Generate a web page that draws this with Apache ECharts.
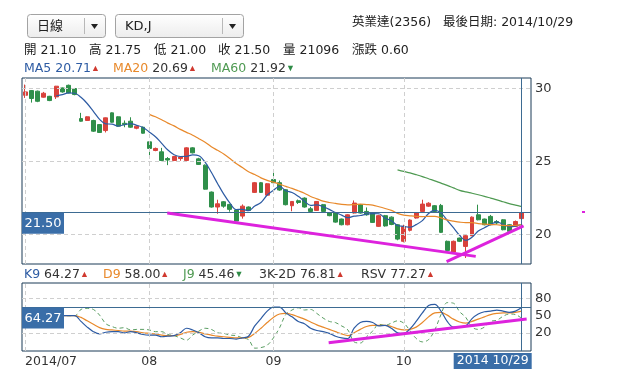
<!DOCTYPE html>
<html><head><meta charset="utf-8">
<script src="https://cdn.jsdelivr.net/npm/echarts@6/dist/echarts.min.js"></script>
<style>html,body{margin:0;padding:0;background:#fff}#c{width:622px;height:385px}</style>
</head><body><div id="c"></div>
<script>
// ---------- data ----------
const dates = [
'2014/07/01','2014/07/02','2014/07/03','2014/07/04','2014/07/07','2014/07/08','2014/07/09','2014/07/10','2014/07/11','2014/07/14',
'2014/07/15','2014/07/16','2014/07/17','2014/07/18','2014/07/21','2014/07/22','2014/07/24','2014/07/25','2014/07/28','2014/07/29',
'2014/08/01','2014/08/04','2014/08/05','2014/08/06','2014/08/07','2014/08/08','2014/08/11','2014/08/12','2014/08/13','2014/08/14',
'2014/08/15','2014/08/18','2014/08/19','2014/08/20','2014/08/21','2014/08/22','2014/08/25','2014/08/26','2014/08/27','2014/08/28',
'2014/09/01','2014/09/02','2014/09/03','2014/09/04','2014/09/05','2014/09/09','2014/09/10','2014/09/11','2014/09/12','2014/09/15',
'2014/09/16','2014/09/17','2014/09/18','2014/09/19','2014/09/22','2014/09/23','2014/09/24','2014/09/25','2014/09/26','2014/09/29',
'2014/09/30','2014/10/01','2014/10/02','2014/10/03','2014/10/06','2014/10/07','2014/10/08','2014/10/09','2014/10/13','2014/10/14',
'2014/10/15','2014/10/16','2014/10/17','2014/10/20','2014/10/21','2014/10/22','2014/10/23','2014/10/24','2014/10/27','2014/10/28',
'2014/10/29'];
const openP = [29.52,29.84,29.80,29.39,29.45,29.41,30.02,30.20,29.98,27.93,
27.80,27.80,27.52,27.11,28.32,28.05,27.61,27.75,27.27,27.34,
26.34,25.75,25.66,25.20,25.07,25.20,25.07,25.93,25.18,24.75,
22.91,21.89,22.25,22.07,21.68,21.27,21.89,22.89,23.55,22.70,
23.77,23.55,23.07,21.98,22.32,22.50,21.77,21.66,22.05,21.48,
21.48,21.07,20.68,21.48,22.05,21.59,21.48,20.57,21.30,21.20,
20.68,19.55,20.30,21.14,21.59,21.95,21.98,22.00,19.55,18.82,
19.77,19.20,19.93,21.36,21.07,21.25,20.90,21.02,20.68,20.57,
21.10];
const closeP = [29.75,29.30,29.11,29.66,29.16,30.14,29.75,29.68,29.57,27.75,
28.05,27.07,26.98,27.98,27.68,27.41,27.52,27.34,27.41,26.93,
25.89,25.89,25.07,25.10,25.34,25.30,25.93,25.59,24.80,23.11,
21.89,22.11,21.95,21.73,20.93,21.95,21.66,23.55,22.89,23.48,
23.55,23.05,22.05,22.27,22.20,21.89,21.59,22.27,21.59,21.30,
20.86,20.68,21.36,22.16,21.48,21.36,20.84,21.30,20.60,20.70,
19.70,20.55,21.00,21.48,22.09,22.15,21.59,20.16,18.93,19.55,
19.55,19.93,21.20,21.02,20.68,20.68,20.80,20.34,20.23,20.90,
21.50];
const lowP = [29.34,29.02,29.05,29.36,29.12,29.27,29.70,29.65,29.52,27.72,
27.78,27.02,26.95,26.98,27.65,27.38,27.34,27.30,27.20,26.90,
25.30,25.70,25.02,24.75,25.02,25.05,25.02,25.55,24.76,23.08,
21.85,21.43,21.84,21.57,20.90,21.10,21.62,22.85,22.85,22.65,
23.50,23.00,22.00,21.60,22.10,21.85,21.50,21.62,21.55,21.26,
20.82,20.64,20.64,21.44,21.44,21.30,20.80,20.53,20.55,20.65,
19.62,19.48,20.22,21.10,21.55,21.90,21.55,20.12,18.90,18.75,
19.50,18.41,19.90,20.98,20.64,20.64,20.70,20.30,20.19,20.53,
21.00];
const highP = [30.25,29.88,29.84,29.75,29.48,30.16,30.05,30.25,30.02,28.32,
28.08,27.85,27.55,28.00,28.35,28.08,27.80,28.02,27.45,27.38,
26.40,25.95,25.93,25.30,25.38,25.36,25.97,25.97,25.25,24.80,
22.95,22.39,22.30,22.10,21.72,22.07,21.93,23.60,23.60,23.52,
24.34,23.70,23.10,22.30,22.40,22.55,21.90,22.30,22.10,21.52,
21.52,21.10,21.40,22.34,22.10,21.86,21.52,21.36,21.35,21.25,
20.72,20.68,21.05,21.52,22.39,22.22,22.02,22.10,19.60,19.60,
19.80,20.00,21.25,22.05,21.10,21.35,21.00,21.06,20.72,20.97,
21.75];
// moving averages as read (MA5 from index 5, MA20 from index 20, MA60 from index 60)
const ma5 = [29.47,29.56,29.68,29.66,29.38,28.96,28.42,27.88,27.57,27.55,
27.42,27.51,27.59,27.47,27.32,27.02,26.69,26.24,25.78,25.46,
25.34,25.35,25.45,25.39,24.95,24.26,23.50,22.77,22.16,21.72,
21.73,21.64,21.96,22.20,22.71,23.03,23.30,23.00,22.88,22.62,
22.29,22.00,22.04,21.91,21.73,21.52,21.34,21.16,21.27,21.31,
21.41,21.44,21.43,21.12,20.96,20.63,20.57,20.51,20.69,20.96,
21.45,21.66,21.49,20.98,20.48,19.96,19.62,19.83,20.25,20.48,
20.70,20.88,20.70,20.55,20.59,20.71];
const ma20 = [28.22,28.05,27.85,27.62,27.43,27.19,26.99,26.79,26.55,26.32,
26.01,25.76,25.51,25.20,24.86,24.59,24.30,24.11,23.88,23.71,
23.59,23.45,23.30,23.16,23.00,22.83,22.61,22.45,22.29,22.20,
22.14,22.07,22.04,22.06,22.09,22.06,22.02,21.91,21.79,21.66,
21.46,21.34,21.29,21.25,21.24,21.25,21.25,21.15,21.01,20.93,
20.86,20.82,20.82,20.76,20.72,20.69,20.68,20.64,20.62,20.63,
20.69];
const ma60 = [24.43,24.32,24.22,24.10,23.97,23.82,23.68,23.52,23.37,23.20,
23.03,22.92,22.83,22.73,22.62,22.50,22.38,22.25,22.12,22.02,21.92];
const kLine = [50,50,50,50,50,50,50,50,50,40,
30,22,18,21,22,22,20,22,20,17,
16,16,13,14,15,20,28,25,20,13,
11,11,10,10,9,11,14,32,45,58,
65,65,55,48,40,36,28,24,22,19,
14,11,10,28,38,40,38,32,33,28,
20,19,27,40,55,68,70,58,40,30,
30,32,45,53,57,58,60,58,56,58,
64.27];
const dLine = [50,50,50,50,50,50,50,50,50,47,
41,35,29,26,25,24,23,23,22,20,
19,18,16,15,15,17,21,22,21,18,
16,14,13,12,11,11,12,19,28,38,
47,53,54,52,48,44,39,34,30,26,
22,18,15,20,26,31,33,33,33,31,
27,25,26,30,38,48,55,56,51,44,
39,37,40,44,48,52,54,55,55,56,
58.00];
const jLine = [50,50,50,50,50,50,50,50,50,61,
63,61,51,36,31,28,29,25,26,26,
25,22,22,17,15,11,7,16,23,28,
26,20,19,16,15,11,8,-7,-6,-2,
11,29,52,60,64,60,61,54,46,40,
38,32,25,4,2,13,23,35,33,37,
41,37,24,10,4,8,25,52,73,72,
57,47,30,26,30,40,42,49,53,52,
45.46];
const priceTicks = [20, 25, 30];
const kdTicks = [20, 50, 80];
const kdGridTicks = [20, 80];
const monthStartIdx = [0, 20, 40, 61];
const monthLabels = ['2014/07', '08', '09', '10'];
// hand-drawn trend lines, in [candle index, value]
const trendA = [[22.9, 21.48], [72.6, 18.52]];
const trendB = [[67.9, 18.16], [80.3, 20.61]];
const trendKD = [[48.9, 2.5], [80.8, 44.4]];
const lastPrice = 21.50;
const lastK = 64.27;

// ---------- chart ----------
const FONT = "'DejaVu Sans','Noto Sans CJK TC',sans-serif";
const RED = '#d9423c', GREEN = '#2f8f4a';
const C_MA5 = '#2d5ba3', C_MA20 = '#e8892b', C_MA60 = '#4f9a52';
const FRAME = '#1b3a57', CROSS = '#3d6b92', GRIDC = '#cfcfcf', MAG = '#dd22dd';
const cats = dates.concat(['']);
const N = dates.length;
const pad = (arr, start) => new Array(start).fill(null).concat(arr);
const candle = openP.map((o, i) => [o, closeP[i], lowP[i], highP[i]]);
const nulls = new Array(N).fill(null);
const dash = {type: [4, 3], color: GRIDC, width: 1};
const solid = {type: 'solid', color: CROSS, width: 1};

const chart = echarts.init(document.getElementById('c'), null, {renderer: 'canvas'});
const option = {
  animation: false,
  backgroundColor: '#fff',
  textStyle: {fontFamily: FONT},
  grid: [
    {left: 22, top: 78, width: 509, height: 186, show: true, borderColor: FRAME, borderWidth: 1, backgroundColor: 'transparent'},
    {left: 22, top: 283, width: 509, height: 68, show: true, borderColor: FRAME, borderWidth: 1, backgroundColor: 'transparent'}
  ],
  xAxis: [
    {type: 'category', gridIndex: 0, data: cats, boundaryGap: true, axisLine: {show: false}, axisTick: {show: false}, axisLabel: {show: false}, splitLine: {show: false}},
    {type: 'category', gridIndex: 1, data: cats, boundaryGap: true, axisLine: {show: false}, axisTick: {show: false}, splitLine: {show: false},
      axisLabel: {show: true, margin: 4, fontSize: 12.5, color: '#333', fontFamily: FONT, alignMinLabel: 'left',
        interval: (idx) => monthStartIdx.indexOf(idx) >= 0,
        formatter: (v, idx) => { const k = monthStartIdx.indexOf(idx); return k >= 0 ? monthLabels[k] : ''; }}},
    {type: 'value', gridIndex: 0, min: -0.5, max: N + 0.5, show: false},
    {type: 'value', gridIndex: 1, min: -0.5, max: N + 0.5, show: false}
  ],
  yAxis: [
    {type: 'value', gridIndex: 0, position: 'right', min: 18.0, max: 30.7, scale: true,
      axisLine: {show: false}, axisTick: {show: false}, splitLine: {show: false},
      axisLabel: {margin: 4, fontSize: 13, color: '#333', fontFamily: FONT, customValues: priceTicks}},
    {type: 'value', gridIndex: 1, position: 'right', min: -12, max: 107.5,
      axisLine: {show: false}, axisTick: {show: false}, splitLine: {show: false},
      axisLabel: {margin: 4, fontSize: 13, color: '#333', fontFamily: FONT, customValues: kdTicks}}
  ],
  series: [
    {type: 'line', xAxisIndex: 0, yAxisIndex: 0, data: nulls, z: 1, silent: true, showSymbol: false,
      markLine: {silent: true, symbol: ['none', 'none'], animation: false, label: {show: false},
        data: priceTicks.map(v => ({yAxis: v, lineStyle: dash}))
          .concat(monthStartIdx.map(i => ({xAxis: cats[i], lineStyle: dash})))
          .concat([{yAxis: lastPrice, lineStyle: solid}, {xAxis: cats[N - 1], lineStyle: solid}])}},
    {type: 'candlestick', xAxisIndex: 0, yAxisIndex: 0, data: candle, barWidth: 4.4, z: 3,
      itemStyle: {color: RED, color0: GREEN, borderColor: RED, borderColor0: GREEN, borderWidth: 1}},
    {type: 'line', name: 'MA5', xAxisIndex: 0, yAxisIndex: 0, data: pad(ma5, 5), showSymbol: false, smooth: 0.35, z: 4,
      lineStyle: {color: C_MA5, width: 1.2}},
    {type: 'line', name: 'MA20', xAxisIndex: 0, yAxisIndex: 0, data: pad(ma20, 20), showSymbol: false, smooth: 0.35, z: 4,
      lineStyle: {color: C_MA20, width: 1.2}},
    {type: 'line', name: 'MA60', xAxisIndex: 0, yAxisIndex: 0, data: pad(ma60, 60), showSymbol: false, smooth: 0.35, z: 4,
      lineStyle: {color: C_MA60, width: 1.2}},
    {type: 'line', xAxisIndex: 2, yAxisIndex: 0, data: trendA, showSymbol: false, z: 6, lineStyle: {color: MAG, width: 3}},
    {type: 'line', xAxisIndex: 2, yAxisIndex: 0, data: trendB, showSymbol: false, z: 6, lineStyle: {color: MAG, width: 3}},
    // KD panel
    {type: 'line', xAxisIndex: 1, yAxisIndex: 1, data: nulls, z: 1, silent: true, showSymbol: false,
      markLine: {silent: true, symbol: ['none', 'none'], animation: false, label: {show: false},
        data: kdGridTicks.map(v => ({yAxis: v, lineStyle: dash}))
          .concat(monthStartIdx.map(i => ({xAxis: cats[i], lineStyle: dash})))
          .concat([{yAxis: lastK, lineStyle: solid}, {xAxis: cats[N - 1], lineStyle: solid}])}},
    {type: 'line', name: 'J9', xAxisIndex: 1, yAxisIndex: 1, data: jLine, showSymbol: false, smooth: 0.35, z: 3,
      lineStyle: {color: '#5a9e62', width: 1, type: [4, 3]}},
    {type: 'line', name: 'D9', xAxisIndex: 1, yAxisIndex: 1, data: dLine, showSymbol: false, smooth: 0.35, z: 4,
      lineStyle: {color: C_MA20, width: 1.2}},
    {type: 'line', name: 'K9', xAxisIndex: 1, yAxisIndex: 1, data: kLine, showSymbol: false, smooth: 0.35, z: 4,
      lineStyle: {color: C_MA5, width: 1.2}},
    {type: 'line', xAxisIndex: 3, yAxisIndex: 1, data: trendKD, showSymbol: false, z: 6, lineStyle: {color: MAG, width: 3}}
  ]
};
chart.setOption(option);

// ---------- overlay texts / controls ----------
const grad = new echarts.graphic.LinearGradient(0, 0, 0, 1, [{offset: 0, color: '#ffffff'}, {offset: 1, color: '#ececec'}]);
function txt(x, y, text, rich, size, color) {
  return {type: 'text', x: x, y: y, z: 100, silent: true,
    style: {text: text, rich: rich || {}, font: (size || 12.5) + 'px ' + FONT, fill: color || '#222', verticalAlign: 'middle', align: 'left'}};
}
function selBox(x, w, label) {
  const sep = x + w - 21;
  return [
    {type: 'rect', z: 100, silent: true, shape: {x: x + 0.5, y: 14.5, width: w, height: 23, r: 3}, style: {fill: grad, stroke: '#a3a3a3', lineWidth: 1}},
    {type: 'line', z: 101, silent: true, shape: {x1: sep + 0.5, y1: 18, x2: sep + 0.5, y2: 34}, style: {stroke: '#b8b8b8', lineWidth: 1}},
    {type: 'polygon', z: 101, silent: true, shape: {points: [[sep + 7, 24], [sep + 14, 24], [sep + 10.5, 29]]}, style: {fill: '#222'}},
    txt(x + 10, 26.5, label, null, 13, '#222')
  ];
}
const up = {fill: '#d0392f', color: '#d0392f', fontSize: 9, font: '9px ' + FONT};
const dn = {fill: '#2e8b46', color: '#2e8b46', fontSize: 9, font: '9px ' + FONT};
function rc(c) { return {fill: c, color: c}; }

const yP = chart.convertToPixel({yAxisIndex: 0}, lastPrice);
const yK = chart.convertToPixel({yAxisIndex: 1}, lastK);
const xL = chart.convertToPixel({xAxisIndex: 1}, cats[N - 1]);

const graphics = [].concat(
  selBox(27, 78, '日線'),
  selBox(115, 128, 'KD,J'),
  [
    txt(352, 23, '英業達(2356)   最後日期: 2014/10/29'),
    txt(24, 51, '開 21.10'), txt(89, 51, '高 21.75'), txt(154, 51, '低 21.00'),
    txt(218, 51, '收 21.50'), txt(283, 51, '量 21096'), txt(352, 51, '漲跌 0.60'),
    txt(24, 69, '{a|MA5} {v|20.71}{u|▲}', {a: rc(C_MA5), v: rc(C_MA5), u: up}),
    txt(113, 69, '{a|MA20} {v|20.69}{u|▲}', {a: rc(C_MA20), v: rc('#333'), u: up}),
    txt(211, 69, '{a|MA60} {v|21.92}{d|▼}', {a: rc(C_MA60), v: rc('#333'), d: dn}),
    txt(24, 275, '{a|K9} {v|64.27}{u|▲}', {a: rc(C_MA5), v: rc('#333'), u: up}),
    txt(103, 275, '{a|D9} {v|58.00}{u|▲}', {a: rc(C_MA20), v: rc('#333'), u: up}),
    txt(183, 275, '{a|J9} {v|45.46}{d|▼}', {a: rc(C_MA60), v: rc('#333'), d: dn}),
    txt(259, 275, '{a|3K-2D} {v|76.81}{u|▲}', {a: rc('#333'), v: rc('#333'), u: up}),
    txt(361, 275, '{a|RSV} {v|77.27}{u|▲}', {a: rc('#333'), v: rc('#333'), u: up}),
    // value tags on the crosshair lines
    {type: 'rect', z: 100, silent: true, shape: {x: 22, y: yP, width: 42, height: 21}, style: {fill: '#3a6ea8'}},
    {type: 'text', z: 101, silent: true, x: 43, y: yP + 11, style: {text: lastPrice.toFixed(2), font: '13px ' + FONT, fill: '#fff', align: 'center', verticalAlign: 'middle'}},
    {type: 'rect', z: 100, silent: true, shape: {x: 22, y: yK, width: 42, height: 21}, style: {fill: '#3a6ea8'}},
    {type: 'text', z: 101, silent: true, x: 43, y: yK + 11, style: {text: lastK.toFixed(2), font: '13px ' + FONT, fill: '#fff', align: 'center', verticalAlign: 'middle'}},
    {type: 'rect', z: 100, silent: true, shape: {x: xL - 68, y: 353, width: 78, height: 16}, style: {fill: '#3a6ea8'}},
    {type: 'text', z: 101, silent: true, x: xL - 29, y: 361, style: {text: '2014 10/29', font: '12.5px ' + FONT, fill: '#fff', align: 'center', verticalAlign: 'middle'}},
    {type: 'rect', z: 100, silent: true, shape: {x: 582, y: 211, width: 3, height: 2}, style: {fill: MAG}}
  ]
);
chart.setOption({graphic: graphics});
</script>
</body></html>
